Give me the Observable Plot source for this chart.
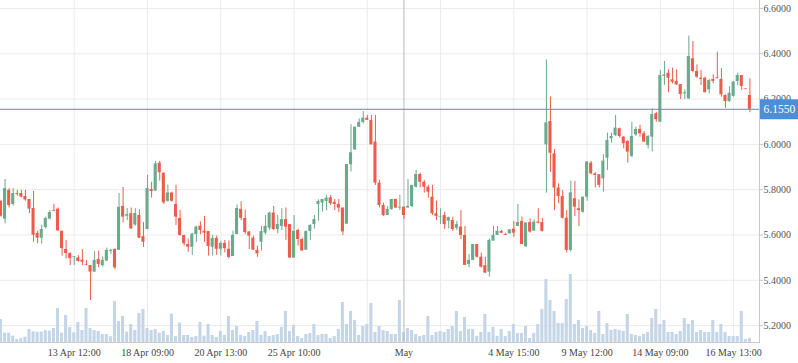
<!DOCTYPE html>
<html>
<head>
<meta charset="utf-8">
<script src="https://cdn.jsdelivr.net/npm/d3@7"></script>
<script src="https://cdn.jsdelivr.net/npm/@observablehq/plot@0.6"></script>
<style>
  html, body { margin: 0; padding: 0; background: #ffffff; }
  #wrap { position: relative; width: 798px; height: 363px; overflow: hidden; }
  #wrap > svg { position: absolute; left: 0; top: 0; }
</style>
</head>
<body>
<div id="wrap"></div>
<script>
// ---- data ----
const open = [5.748,5.670,5.797,5.735,5.783,5.783,5.770,5.757,5.717,5.607,5.586,5.633,5.670,5.708,5.714,5.616,5.536,5.518,5.502,5.499,
5.489,5.469,5.465,5.436,5.492,5.465,5.485,5.528,5.536,5.532,5.726,5.683,5.694,5.644,5.686,5.593,5.624,5.801,5.794,5.917,
5.873,5.749,5.785,5.735,5.673,5.598,5.558,5.546,5.602,5.639,5.617,5.615,5.546,5.585,5.537,5.563,5.537,5.505,5.602,5.713,
5.673,5.613,5.586,5.532,5.568,5.608,5.630,5.697,5.624,5.638,5.668,5.646,5.498,5.620,5.580,5.533,5.616,5.646,5.735,5.741,
5.748,5.764,5.744,5.735,5.719,5.648,5.910,5.976,6.076,6.097,6.116,6.106,6.010,5.829,5.730,5.686,5.713,5.757,5.719,5.723,
5.719,5.726,5.811,5.867,5.833,5.811,5.767,5.694,5.679,5.686,5.661,5.664,5.630,5.635,5.598,5.470,5.488,5.558,5.502,5.465,
5.436,5.573,5.598,5.616,5.602,5.605,5.626,5.638,5.660,5.548,5.655,5.617,5.657,5.655,5.998,6.101,5.958,5.807,5.770,5.674,
5.532,5.760,5.716,5.701,5.767,5.917,5.870,5.866,5.848,5.939,6.025,6.039,6.069,6.032,6.013,5.947,6.042,6.066,6.047,5.995,
6.032,6.135,6.098,6.301,6.314,6.285,6.278,6.264,6.223,6.201,6.378,6.322,6.292,6.292,6.241,6.287,6.294,6.287,6.216,6.189,
6.212,6.278,6.304,6.245,6.216];
const high = [5.752,5.845,5.805,5.805,5.797,5.797,5.797,5.757,5.792,5.617,5.642,5.679,5.708,5.736,5.719,5.618,5.576,5.521,5.505,5.509,
5.535,5.487,5.465,5.527,5.529,5.504,5.542,5.536,5.539,5.783,5.810,5.717,5.719,5.716,5.711,5.655,5.863,5.833,5.925,5.925,
5.873,5.820,5.789,5.819,5.708,5.599,5.582,5.607,5.639,5.658,5.682,5.615,5.598,5.596,5.571,5.576,5.574,5.617,5.732,5.747,
5.710,5.615,5.595,5.551,5.638,5.686,5.700,5.726,5.686,5.716,5.719,5.646,5.686,5.626,5.586,5.616,5.646,5.686,5.755,5.757,
5.775,5.775,5.757,5.757,5.719,5.911,6.087,6.076,6.113,6.145,6.128,6.128,6.128,5.841,5.741,5.726,5.757,5.757,5.775,5.723,
5.845,5.819,5.885,5.873,5.841,5.819,5.819,5.750,5.716,5.701,5.679,5.679,5.660,5.708,5.638,5.514,5.558,5.558,5.520,5.502,
5.583,5.638,5.638,5.620,5.608,5.623,5.660,5.735,5.679,5.653,5.671,5.667,5.716,5.674,6.373,6.209,5.977,5.826,5.796,5.708,
5.838,5.836,5.755,5.767,5.925,5.925,5.875,5.866,5.955,6.050,6.050,6.128,6.072,6.035,6.017,6.098,6.076,6.084,6.057,6.039,
6.157,6.142,6.326,6.366,6.329,6.337,6.329,6.264,6.241,6.478,6.454,6.351,6.326,6.297,6.287,6.307,6.407,6.334,6.219,6.256,
6.278,6.314,6.304,6.245,6.290];
const low = [5.679,5.649,5.719,5.727,5.770,5.764,5.749,5.694,5.568,5.561,5.560,5.627,5.667,5.703,5.616,5.507,5.495,5.465,5.465,5.480,
5.464,5.464,5.311,5.436,5.455,5.458,5.483,5.514,5.446,5.532,5.654,5.664,5.624,5.639,5.586,5.545,5.624,5.763,5.794,5.838,
5.735,5.745,5.745,5.642,5.595,5.551,5.524,5.510,5.567,5.601,5.568,5.507,5.507,5.510,5.507,5.521,5.495,5.505,5.602,5.663,
5.602,5.536,5.532,5.502,5.529,5.600,5.620,5.620,5.605,5.620,5.576,5.498,5.498,5.551,5.529,5.533,5.576,5.626,5.661,5.701,
5.708,5.730,5.708,5.699,5.598,5.648,5.878,5.973,6.076,6.091,6.106,5.998,5.819,5.720,5.682,5.686,5.708,5.716,5.708,5.669,
5.719,5.721,5.808,5.808,5.785,5.763,5.686,5.664,5.646,5.624,5.627,5.616,5.620,5.580,5.466,5.454,5.488,5.498,5.454,5.429,
5.414,5.573,5.598,5.605,5.598,5.605,5.590,5.638,5.558,5.546,5.608,5.617,5.649,5.613,5.785,5.877,5.708,5.738,5.671,5.520,
5.524,5.682,5.637,5.696,5.749,5.866,5.808,5.808,5.789,5.885,6.005,6.035,6.028,5.980,5.917,5.941,6.035,6.032,6.010,5.980,
5.966,6.098,6.098,6.260,6.228,6.267,6.260,6.198,6.198,6.198,6.316,6.292,6.260,6.228,6.223,6.267,6.290,6.209,6.160,6.186,
6.209,6.260,6.238,6.242,6.140];
const close = [5.683,5.805,5.730,5.783,5.779,5.767,5.755,5.714,5.599,5.586,5.624,5.673,5.699,5.705,5.618,5.540,5.518,5.496,5.505,5.483,
5.480,5.466,5.436,5.488,5.470,5.488,5.532,5.532,5.455,5.722,5.679,5.690,5.627,5.695,5.586,5.568,5.805,5.792,5.914,5.875,
5.742,5.785,5.749,5.679,5.598,5.561,5.546,5.604,5.635,5.620,5.608,5.549,5.585,5.537,5.563,5.540,5.501,5.598,5.717,5.674,
5.611,5.595,5.533,5.517,5.615,5.638,5.697,5.624,5.646,5.668,5.635,5.498,5.616,5.580,5.529,5.616,5.642,5.668,5.748,5.757,
5.763,5.738,5.735,5.719,5.614,5.911,5.963,6.076,6.097,6.116,6.106,5.998,5.829,5.730,5.686,5.713,5.757,5.719,5.723,5.686,
5.726,5.819,5.867,5.833,5.811,5.789,5.694,5.682,5.682,5.646,5.677,5.624,5.646,5.598,5.466,5.488,5.558,5.502,5.458,5.432,
5.576,5.598,5.616,5.608,5.598,5.623,5.608,5.655,5.558,5.653,5.613,5.657,5.652,5.616,6.095,5.961,5.807,5.770,5.674,5.532,
5.786,5.723,5.708,5.767,5.922,5.870,5.863,5.819,5.926,6.017,6.035,6.072,6.035,6.003,5.966,6.035,6.066,6.047,6.010,6.035,
6.132,6.109,6.304,6.307,6.292,6.275,6.263,6.220,6.228,6.388,6.322,6.297,6.287,6.228,6.282,6.278,6.290,6.219,6.189,6.226,
6.275,6.304,6.256,6.242,6.155];
const volume = [70,29,29,20,10,13,17,40,33,32,32,37,35,43,103,29,82,46,30,61,
37,103,43,37,34,25,25,18,124,64,79,32,55,37,88,100,43,37,40,29,
34,22,86,19,59,22,22,16,19,61,20,55,22,16,34,22,79,37,49,22,
19,31,37,64,22,34,19,22,25,46,94,34,52,19,13,25,28,55,22,25,
25,13,19,40,121,55,94,67,22,49,55,118,31,49,37,34,25,25,127,31,
43,37,25,19,22,79,22,31,34,31,40,49,94,34,76,40,40,19,31,85,
31,46,19,40,19,34,55,28,28,49,13,28,55,100,190,127,94,58,58,130,
205,55,67,43,49,37,28,94,25,58,37,40,37,34,85,25,22,19,25,31,
73,100,55,67,31,31,25,34,73,55,67,31,37,31,31,67,31,55,31,19,
19,19,94,10,13];

const yTicks = [5.2, 5.4, 5.6, 5.8, 6.0, 6.2, 6.4, 6.6];
const gridIdx = [18, 36, 54, 72, 90, 108, 126, 144, 162, 180];
const tickIdx = [18, 36, 54, 72, 99, 126, 144, 162, 180];
const tickLabels = ["13 Apr 12:00", "18 Apr 09:00", "20 Apr 13:00", "25 Apr 10:00", "May", "4 May 15:00", "9 May 12:00", "14 May 09:00", "16 May 13:00"];
const crosshairIdx = 99;
const lastPrice = 6.155;

// ---- build ----
const candles = open.map((o, i) => ({i, o, h: high[i], l: low[i], c: close[i], v: volume[i]}));
const up = candles.filter(d => d.c >= d.o);
const down = candles.filter(d => d.c < d.o);
const labelByIdx = new Map(tickIdx.map((t, k) => [t, tickLabels[k]]));

const GREEN = "#6aa98b", RED = "#ee5b4c", BLUE = "#4a8fd8";
const W = 798, H = 363;
const common = {
  width: W, height: H,
  marginLeft: 0, marginTop: 0, marginRight: 39, marginBottom: 21,
  style: {background: "transparent", fontFamily: "'Liberation Serif', serif", fontSize: "10px", color: "#555", overflow: "visible"}
};
const xScale = {type: "linear", domain: [0, 184], range: [0.5, 749.4]};
const yPrice = {domain: [5.2, 6.6], range: [325.1, 8]};

const gridLayer = Plot.plot({
  ...common,
  x: xScale,
  y: yPrice,
  marks: [
    Plot.gridY(yTicks, {stroke: "#ebebeb", strokeOpacity: 1}),
    Plot.gridX(gridIdx, {stroke: "#ebebeb", strokeOpacity: 1}),
    Plot.frame({anchor: "bottom", stroke: "#c9c9c9"}),
    Plot.frame({anchor: "right", stroke: "#c9c9c9"}),
    Plot.axisY(yTicks, {anchor: "right", tickSize: 3, tickPadding: 1, stroke: "#c9c9c9", fill: "#555", tickFormat: d => d.toFixed(4)}),
    Plot.axisX(tickIdx, {anchor: "bottom", tickSize: 0, tickPadding: 6, fill: "#444", tickFormat: d => labelByIdx.get(d)})
  ]
});

const volLayer = Plot.plot({
  ...common,
  x: {...xScale, axis: null},
  y: {domain: [0, 205], range: [342.3, 274], axis: null},
  marks: [
    Plot.rectY(candles, {x1: d => d.i - 0.5, x2: d => d.i + 0.5, y: "v", insetLeft: 0.5, insetRight: 0.5, fill: "#c5d5e8"})
  ]
});

const priceLayer = Plot.plot({
  ...common,
  x: {...xScale, axis: null},
  y: {...yPrice, axis: null},
  marks: [
    Plot.ruleX([crosshairIdx], {stroke: "#b8b8b8"}),
    Plot.ruleX(up, {x: "i", y1: "l", y2: "h", stroke: GREEN}),
    Plot.ruleX(down, {x: "i", y1: "l", y2: "h", stroke: RED}),
    Plot.rect(up, {x1: d => d.i - 0.5, x2: d => d.i + 0.5, y1: "o", y2: "c", insetLeft: 0.5, insetRight: 0.5, fill: GREEN}),
    Plot.rect(down, {x1: d => d.i - 0.5, x2: d => d.i + 0.5, y1: "o", y2: "c", insetLeft: 0.5, insetRight: 0.5, fill: RED}),
    Plot.ruleY([lastPrice], {stroke: BLUE}),
    Plot.ruleY([lastPrice], {x1: 186.6, x2: 197, stroke: BLUE, strokeWidth: 20}),
    Plot.text([lastPrice], {y: d => d, text: d => d.toFixed(4), frameAnchor: "right", textAnchor: "start", dx: 4, dy: 0.5, fill: "white", fontSize: 11.5})
  ]
});

const wrap = document.getElementById("wrap");
wrap.appendChild(gridLayer);
wrap.appendChild(volLayer);
wrap.appendChild(priceLayer);
</script>
</body>
</html>
